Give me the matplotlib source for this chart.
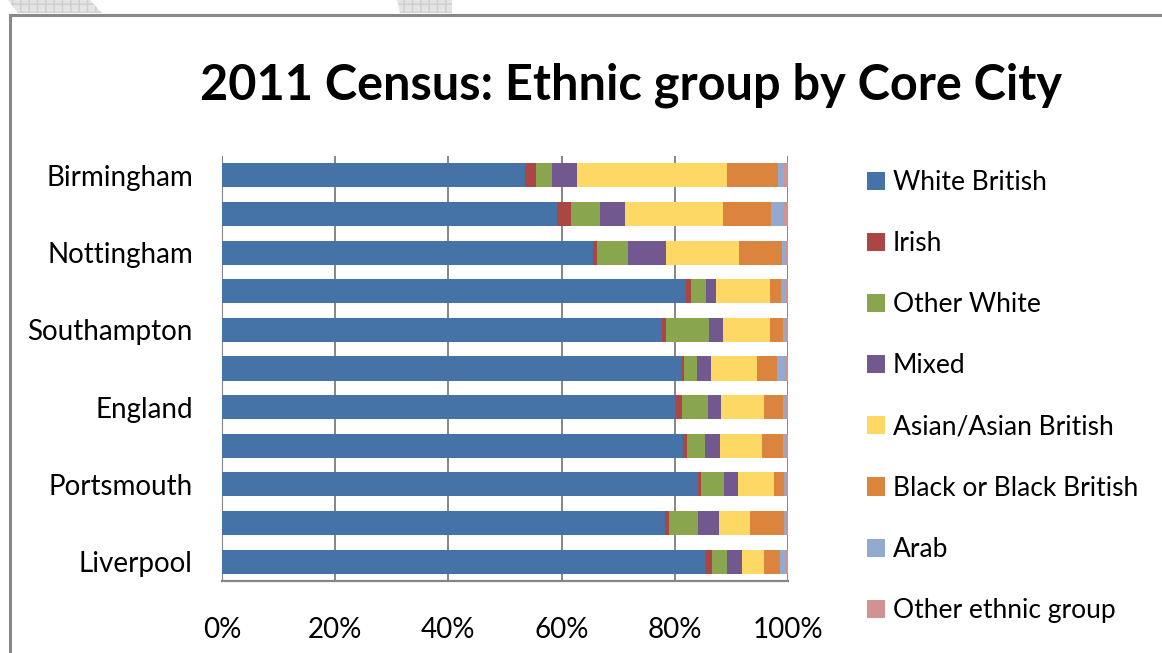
import matplotlib
matplotlib.use("Agg")
import matplotlib.pyplot as plt
from matplotlib.lines import Line2D
from matplotlib.patches import Polygon, Patch
from matplotlib.ticker import FuncFormatter
import numpy as np

# 2011 Census ethnic group shares (% of residents)
cities = ["Birmingham", "Manchester", "Nottingham", "Newcastle", "Southampton",
          "Sheffield", "England", "Leeds", "Portsmouth", "Bristol", "Liverpool"]
groups = ["White British", "Irish", "Other White", "Mixed",
          "Asian/Asian British", "Black or Black British", "Arab", "Other ethnic group"]

white_british = [53.5, 59.2, 65.5, 81.9, 77.7, 81.3, 80.0, 81.4, 84.1, 78.3, 85.3]
irish         = [2.0, 2.5, 0.7, 0.9, 0.7, 0.3, 1.2, 0.8, 0.5, 0.7, 1.3]
other_white   = [2.8, 5.1, 5.5, 2.7, 7.6, 2.3, 4.7, 3.2, 4.1, 5.1, 2.6]
mixed         = [4.4, 4.4, 6.7, 1.7, 2.5, 2.5, 2.2, 2.6, 2.5, 3.7, 2.7]
asian         = [26.5, 17.3, 12.9, 9.7, 8.3, 8.1, 7.6, 7.4, 6.3, 5.5, 3.9]
black         = [9.0, 8.5, 7.6, 1.9, 2.3, 3.6, 3.5, 3.7, 1.8, 6.0, 2.8]
arab          = [1.1, 2.1, 0.6, 0.8, 0.4, 1.4, 0.3, 0.4, 0.4, 0.3, 0.9]
other_group   = [0.7, 0.9, 0.5, 0.4, 0.5, 0.5, 0.5, 0.5, 0.3, 0.4, 0.5]

colors = ["#4572A7", "#AA4643", "#89A54E", "#71588F",
          "#FDD864", "#DB843D", "#93A9CF", "#D19392"]

FONT = "Lato"
GREY = "#868686"

W, H = 1162, 653
fig = plt.figure(figsize=(W / 100, H / 100), dpi=100)

# slide frame and the bits of background graphic peeking in at the top
fig.add_artist(Line2D([10 / W, 10 / W], [0, 1 - 15 / H], color="#888888", lw=2.2))
fig.add_artist(Line2D([10 / W, 1], [1 - 15 / H, 1 - 15 / H], color="#888888", lw=2.2))
for pts in ([(8, 0), (90, 0), (102, 13), (18, 13)], [(397, 0), (452, 0), (452, 13), (400, 13)]):
    poly = Polygon([(x / W, 1 - y / H) for x, y in pts], closed=True,
                   facecolor="#e4e4e4", edgecolor="#cfcfcf", hatch="++", lw=0,
                   transform=fig.transFigure)
    fig.add_artist(poly)

ax = fig.add_axes([222 / W, 1 - 581 / H, (788 - 222) / W, (581 - 156) / H])

series = [white_british, irish, other_white, mixed, asian, black, arab, other_group]
y = np.arange(len(cities))
left = np.zeros(len(cities))
for name, vals, c in zip(groups, series, colors):
    vals = np.array(vals)
    ax.barh(y, vals, left=left, height=0.625, color=c, label=name, zorder=3)
    left += vals

ax.set_xlim(0, 100)
ax.set_ylim(len(cities) - 0.5, -0.5)
ax.set_xticks(np.arange(0, 101, 20))
ax.xaxis.set_major_formatter(FuncFormatter(lambda v, p: f"{v:.0f}%"))
ax.set_yticks(y)
# Excel skipped every second category label
ax.set_yticklabels([c if i % 2 == 0 else "" for i, c in enumerate(cities)])
ax.grid(axis="x", color=GREY, lw=1.4, zorder=0)
ax.tick_params(axis="both", length=0, labelsize=20)
ax.tick_params(axis="y", pad=21)
ax.tick_params(axis="x", pad=26)
for lab in ax.get_xticklabels() + ax.get_yticklabels():
    lab.set_fontfamily(FONT)
for s in ["top", "right"]:
    ax.spines[s].set_visible(False)
ax.spines["left"].set_color(GREY)
ax.spines["left"].set_linewidth(0.8)
ax.spines["bottom"].set_color(GREY)
ax.spines["bottom"].set_linewidth(1.6)

fig.text(631 / W, 1 - 100 / H, "2011 Census: Ethnic group by Core City",
         ha="center", va="baseline", fontsize=35, fontweight="bold", family=FONT)

handles = [Patch(facecolor=c, edgecolor="none") for c in colors]
fig.legend(handles, groups, loc="upper left", bbox_to_anchor=(867 / W, 1 - 170 / H),
           frameon=False, prop={"family": FONT, "size": 19},
           handlelength=0.68, handleheight=0.68, handletextpad=0.3,
           labelspacing=1.37, borderpad=0, borderaxespad=0)

fig.savefig("out.png", dpi=100)
